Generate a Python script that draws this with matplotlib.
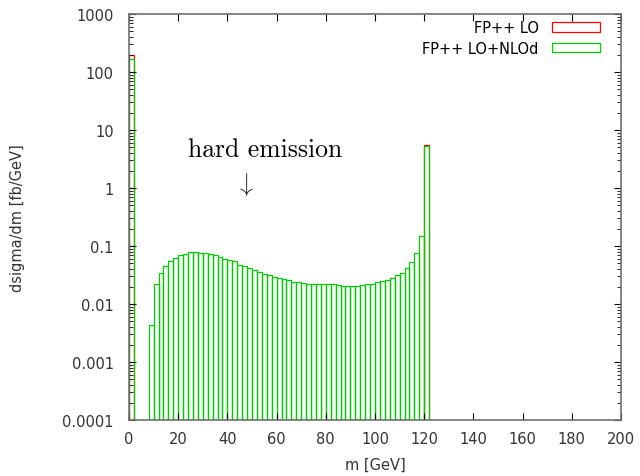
import numpy as np
import matplotlib
matplotlib.use("Agg")
import matplotlib.pyplot as plt
from matplotlib.patches import Patch
from matplotlib.ticker import FixedLocator, LogLocator, FuncFormatter

plt.rcParams["mathtext.fontset"] = "cm"

# bin left edges, 2 GeV wide: [0,2], [2,4], ..., [120,122]
bin_left = np.arange(0, 122, 2)

# FP++ LO (only the two delta peaks)
lo = np.zeros(len(bin_left))
lo[0] = 195.0
lo[-1] = 5.6

# FP++ LO+NLOd
nlo = np.array([
    170.0, 0.0, 0.0, 0.0, 0.0044,          # 0-10
    0.0224, 0.0346, 0.046, 0.056, 0.063,    # 10-20
    0.070, 0.074, 0.078, 0.078, 0.075,      # 20-30
    0.075, 0.072, 0.069, 0.064, 0.060,      # 30-40
    0.057, 0.0546, 0.0477, 0.0447, 0.041,   # 40-50
    0.038, 0.0356, 0.0333, 0.032, 0.0296,   # 50-60
    0.0284, 0.0274, 0.0256, 0.024, 0.0237,  # 60-70
    0.023, 0.0224, 0.0224, 0.0224, 0.0224,  # 70-80
    0.0224, 0.0218, 0.0213, 0.0207, 0.0207, # 80-90
    0.0207, 0.0207, 0.0213, 0.0221, 0.0225, # 90-100
    0.0237, 0.0246, 0.0262, 0.0284, 0.0313, # 100-110
    0.0347, 0.0418, 0.0537, 0.076, 0.15,    # 110-120
    5.2,                                    # 120-122
])

series_names = ["FP++ LO", "FP++ LO+NLOd"]
series_colors = ["#ff0000", "#00c800"]

x_ticks = list(range(0, 201, 20))
y_ticks = [1e-4, 1e-3, 1e-2, 1e-1, 1, 10, 100, 1000]

fig = plt.figure(figsize=(6.4, 4.77), dpi=100)
ax = fig.add_axes([129/640, 1 - 421/477, 492/640, 406/477])

for vals, col in zip([lo, nlo], series_colors):
    m = vals > 0
    ax.bar(bin_left[m], vals[m], width=2, align="edge", bottom=1e-6,
           fill=False, edgecolor=col, linewidth=0.9)

ax.set_yscale("log")
ax.set_xlim(0, 200)
ax.set_ylim(1e-4, 1000)

ax.xaxis.set_major_locator(FixedLocator(x_ticks))
ax.yaxis.set_major_locator(FixedLocator(y_ticks))
ax.yaxis.set_minor_locator(LogLocator(base=10, subs=np.arange(2, 10)))
ax.yaxis.set_major_formatter(FuncFormatter(lambda v, p: "%g" % v))
ax.yaxis.set_minor_formatter(FuncFormatter(lambda v, p: ""))

ax.tick_params(which="both", direction="in", top=True, right=True,
               labelsize=10.5, colors="#000000", labelcolor="#333333")
ax.tick_params(which="major", length=5, width=0.8, pad=8)
ax.tick_params(axis="y", which="major", pad=11)
ax.tick_params(which="minor", length=3, width=0.6)
for s in ax.spines.values():
    s.set_color("#707070")
    s.set_linewidth(1.2)

ax.set_xlabel("m [GeV]", fontsize=10.5, color="#333333")
ax.set_ylabel("dsigma/dm [fb/GeV]", fontsize=10.5, color="#333333")
ax.xaxis.set_label_coords(0.5, (421 - 458) / 406)
ax.yaxis.set_label_coords((25 - 129) / 492, 0.5)

ax.text(55.5, 4.6, "hard emission", fontsize=18.5, family="cmr10",
        ha="center", va="center")
ax.text(47.0, 1.2, r"$\downarrow$", fontsize=19, ha="center", va="center",
        color="#333333")

handles = [Patch(facecolor="none", edgecolor=c, linewidth=0.9) for c in series_colors]
ax.legend(handles, series_names, loc="upper right",
          bbox_to_anchor=((600 - 129) / 492, (421 - 21) / 406),
          frameon=False, markerfirst=False, fontsize=10.5,
          handlelength=3.3, handleheight=0.62, handletextpad=0.9,
          labelspacing=0.38, borderpad=0, borderaxespad=0)

fig.savefig("out.png", dpi=100)
